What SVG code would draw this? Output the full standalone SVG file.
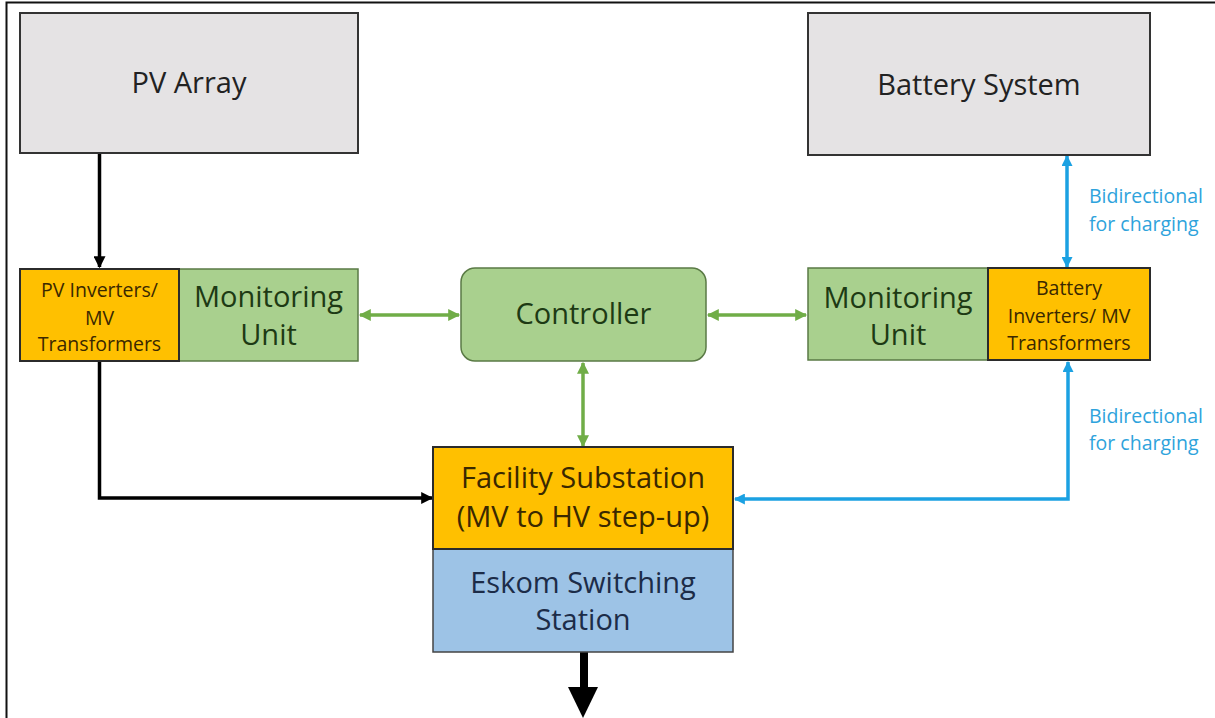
<svg xmlns="http://www.w3.org/2000/svg" width="1215" height="718" viewBox="0 0 1215 718">
<style>
text{font-family:"Open Sans","Liberation Sans",sans-serif;text-anchor:middle}
.big{font-size:29px}
.small{font-size:19.5px}
.lbl{font-size:19.5px;fill:#2ea3dc;text-anchor:start}
.gray{fill:#e5e3e4;stroke:#333;stroke-width:2}
.green{fill:#a9d08e;stroke:#5a7a45;stroke-width:1.5}
.orange{fill:#ffc000;stroke:#2b2b2b;stroke-width:2}
.blue{fill:#9dc3e6;stroke:#444;stroke-width:1.5}
.tg{fill:#1d3a14}
.to{fill:#3a2800}
.tk{fill:#222}
.tb{fill:#1c2c48}
.gl{stroke:#70ad47;stroke-width:3.5;fill:none}
.bl{stroke:#1ba1e2;stroke-width:3.5;fill:none}
.kl{stroke:#000;stroke-width:3.5;fill:none}
</style>
<defs>
<marker id="ag" viewBox="0 0 10 10" markerUnits="userSpaceOnUse" markerWidth="13" markerHeight="12" refX="9" refY="5" orient="auto-start-reverse"><path d="M0,0 L10,5 L0,10 z" fill="#70ad47"/></marker>
<marker id="ab" viewBox="0 0 10 10" markerUnits="userSpaceOnUse" markerWidth="12" markerHeight="11" refX="9" refY="5" orient="auto-start-reverse"><path d="M0,0 L10,5 L0,10 z" fill="#1ba1e2"/></marker>
<marker id="ak" viewBox="0 0 10 10" markerUnits="userSpaceOnUse" markerWidth="13" markerHeight="12" refX="9" refY="5" orient="auto-start-reverse"><path d="M0,0 L10,5 L0,10 z" fill="#000"/></marker>
</defs>
<rect x="0" y="0" width="1215" height="718" fill="#fff"/>
<path d="M6.5,725 V2.5 H1225" fill="none" stroke="#111" stroke-width="2"/>

<g id="connectors">
<line class="kl" x1="99.5" y1="154" x2="99.5" y2="267" marker-end="url(#ak)"/>
<path class="kl" d="M99.5,361 V498 H432" marker-end="url(#ak)"/>
<line class="gl" x1="360" y1="315" x2="459" y2="315" marker-start="url(#ag)" marker-end="url(#ag)"/>
<line class="gl" x1="708" y1="315" x2="806" y2="315" marker-start="url(#ag)" marker-end="url(#ag)"/>
<line class="gl" x1="583" y1="363" x2="583" y2="446" marker-start="url(#ag)" marker-end="url(#ag)"/>
<line class="bl" x1="1067" y1="156" x2="1067" y2="267" marker-start="url(#ab)" marker-end="url(#ab)"/>
<path class="bl" d="M1068,362 V499 H735" marker-start="url(#ab)" marker-end="url(#ab)"/>
<rect x="580" y="652" width="8" height="37" fill="#000"/>
<polygon points="568,687 598,687 583,718" fill="#000"/>
</g>

<g id="pv-array">
<rect class="gray" x="20" y="13" width="338" height="140"/>
<text class="big tk" x="189" y="93">PV Array</text>
</g>
<g id="battery-system">
<rect class="gray" x="808" y="13" width="342" height="142"/>
<text class="big tk" x="979" y="95">Battery System</text>
</g>
<g id="pv-monitoring">
<rect class="green" x="179" y="269" width="179" height="92"/>
<text class="big tg" x="268.5" y="307">Monitoring</text>
<text class="big tg" x="268.5" y="345">Unit</text>
</g>
<g id="pv-inverters">
<rect class="orange" x="20" y="269" width="159" height="92"/>
<text class="small to" x="99.5" y="297">PV Inverters/</text>
<text class="small to" x="99.5" y="325">MV</text>
<text class="small to" x="99.5" y="351">Transformers</text>
</g>
<g id="controller">
<rect class="green" x="461" y="268" width="245" height="93" rx="14"/>
<text class="big tg" x="583.5" y="324">Controller</text>
</g>
<g id="battery-monitoring">
<rect class="green" x="808" y="268" width="180" height="92"/>
<text class="big tg" x="898" y="308">Monitoring</text>
<text class="big tg" x="898" y="345">Unit</text>
</g>
<g id="battery-inverters">
<rect class="orange" x="988" y="268" width="162" height="92"/>
<text class="small to" x="1069" y="295">Battery</text>
<text class="small to" x="1069" y="323">Inverters/ MV</text>
<text class="small to" x="1069" y="350">Transformers</text>
</g>
<g id="eskom-switching">
<rect class="blue" x="433" y="549" width="300" height="103"/>
<text class="big tb" x="583" y="593">Eskom Switching</text>
<text class="big tb" x="583" y="630">Station</text>
</g>
<g id="facility-substation">
<rect class="orange" x="433" y="447" width="300" height="102"/>
<text class="big to" x="583" y="488">Facility Substation</text>
<text class="big to" x="583" y="527">(MV to HV step-up)</text>
</g>
<g id="labels">
<text class="lbl" x="1089" y="203">Bidirectional</text>
<text class="lbl" x="1089" y="231">for charging</text>
<text class="lbl" x="1089" y="423">Bidirectional</text>
<text class="lbl" x="1089" y="450">for charging</text>
</g>
</svg>
